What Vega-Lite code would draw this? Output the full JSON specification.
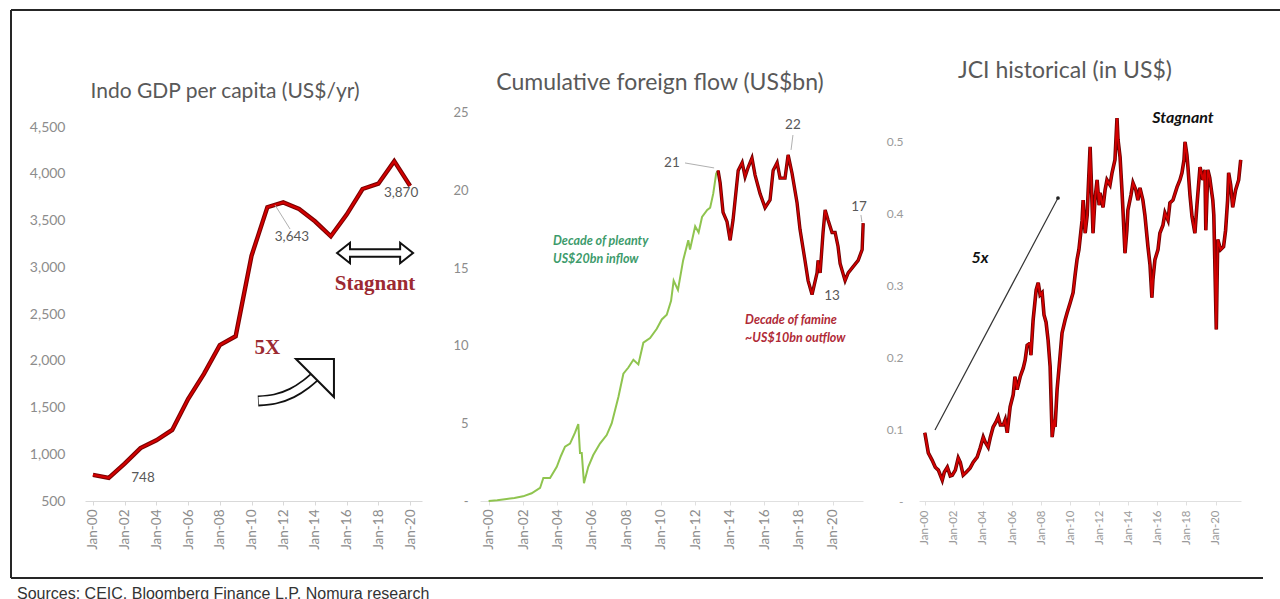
{
  "$schema": "https://vega.github.io/schema/vega-lite/v6.json",
  "width": 1269,
  "height": 568,
  "autosize": {"type": "none"},
  "padding": {"left": 11, "top": 10, "right": 0, "bottom": 21},
  "background": "white",
  "title": {"text": "Sources: CEIC, Bloomberg Finance L.P, Nomura research", "orient": "bottom", "anchor": "start", "offset": 7, "dx": 7, "font": "Liberation Sans", "fontSize": 16, "fontWeight": "normal", "color": "#333333"},
  "config": {"view": {"stroke": null}, "axis": {"grid": false}},
  "datasets": {
    "gdp": [
      {"t": 2000, "v": 780}, {"t": 2001, "v": 748}, {"t": 2002, "v": 900}, {"t": 2003, "v": 1066},
      {"t": 2004, "v": 1150}, {"t": 2005, "v": 1260}, {"t": 2006, "v": 1590}, {"t": 2007, "v": 1860},
      {"t": 2008, "v": 2167}, {"t": 2009, "v": 2262}, {"t": 2010, "v": 3122}, {"t": 2011, "v": 3643},
      {"t": 2012, "v": 3694}, {"t": 2013, "v": 3623}, {"t": 2014, "v": 3492}, {"t": 2015, "v": 3332},
      {"t": 2016, "v": 3563}, {"t": 2017, "v": 3837}, {"t": 2018, "v": 3894}, {"t": 2019, "v": 4135},
      {"t": 2020, "v": 3870}
    ],
    "flow": [
      {"t": 2000.0, "v": 0.0, "seg": "plenty"}, {"t": 2000.5, "v": 0.05, "seg": "plenty"},
      {"t": 2001.05, "v": 0.13, "seg": "plenty"}, {"t": 2001.5, "v": 0.2, "seg": "plenty"},
      {"t": 2002.0, "v": 0.3, "seg": "plenty"}, {"t": 2002.5, "v": 0.5, "seg": "plenty"},
      {"t": 2002.99, "v": 0.84, "seg": "plenty"}, {"t": 2003.18, "v": 1.48, "seg": "plenty"},
      {"t": 2003.57, "v": 1.48, "seg": "plenty"}, {"t": 2003.96, "v": 2.2, "seg": "plenty"},
      {"t": 2004.2, "v": 2.9, "seg": "plenty"}, {"t": 2004.44, "v": 3.5, "seg": "plenty"},
      {"t": 2004.73, "v": 3.7, "seg": "plenty"}, {"t": 2005.02, "v": 4.4, "seg": "plenty"},
      {"t": 2005.21, "v": 4.96, "seg": "plenty"}, {"t": 2005.31, "v": 3.1, "seg": "plenty"},
      {"t": 2005.41, "v": 3.1, "seg": "plenty"}, {"t": 2005.54, "v": 1.15, "seg": "plenty"},
      {"t": 2005.79, "v": 2.2, "seg": "plenty"}, {"t": 2006.08, "v": 2.96, "seg": "plenty"},
      {"t": 2006.47, "v": 3.7, "seg": "plenty"}, {"t": 2006.86, "v": 4.25, "seg": "plenty"},
      {"t": 2007.15, "v": 5.0, "seg": "plenty"}, {"t": 2007.54, "v": 6.7, "seg": "plenty"},
      {"t": 2007.83, "v": 8.2, "seg": "plenty"}, {"t": 2008.12, "v": 8.6, "seg": "plenty"},
      {"t": 2008.41, "v": 9.1, "seg": "plenty"}, {"t": 2008.7, "v": 8.8, "seg": "plenty"},
      {"t": 2008.99, "v": 10.2, "seg": "plenty"}, {"t": 2009.38, "v": 10.5, "seg": "plenty"},
      {"t": 2009.77, "v": 11.1, "seg": "plenty"}, {"t": 2010.06, "v": 11.7, "seg": "plenty"},
      {"t": 2010.35, "v": 12.0, "seg": "plenty"}, {"t": 2010.6, "v": 12.9, "seg": "plenty"},
      {"t": 2010.75, "v": 14.2, "seg": "plenty"}, {"t": 2011.0, "v": 13.6, "seg": "plenty"},
      {"t": 2011.3, "v": 15.5, "seg": "plenty"}, {"t": 2011.6, "v": 16.8, "seg": "plenty"},
      {"t": 2011.7, "v": 16.2, "seg": "plenty"}, {"t": 2012.0, "v": 17.7, "seg": "plenty"},
      {"t": 2012.2, "v": 17.3, "seg": "plenty"}, {"t": 2012.4, "v": 18.3, "seg": "plenty"},
      {"t": 2012.7, "v": 18.75, "seg": "plenty"}, {"t": 2012.87, "v": 18.9, "seg": "plenty"},
      {"t": 2013.05, "v": 19.8, "seg": "plenty"}, {"t": 2013.22, "v": 21.1, "seg": "plenty"},
      {"t": 2013.33, "v": 21.3, "seg": "plenty"},
      {"t": 2013.33, "v": 21.3, "seg": "famine"}, {"t": 2013.45, "v": 20.5, "seg": "famine"},
      {"t": 2013.62, "v": 18.6, "seg": "famine"}, {"t": 2013.85, "v": 18.0, "seg": "famine"},
      {"t": 2014.03, "v": 16.8, "seg": "famine"}, {"t": 2014.2, "v": 18.1, "seg": "famine"},
      {"t": 2014.5, "v": 21.3, "seg": "famine"}, {"t": 2014.73, "v": 21.8, "seg": "famine"},
      {"t": 2014.9, "v": 20.9, "seg": "famine"}, {"t": 2015.08, "v": 21.5, "seg": "famine"},
      {"t": 2015.3, "v": 22.1, "seg": "famine"}, {"t": 2015.48, "v": 21.0, "seg": "famine"},
      {"t": 2015.77, "v": 19.8, "seg": "famine"}, {"t": 2016.06, "v": 18.9, "seg": "famine"},
      {"t": 2016.35, "v": 19.4, "seg": "famine"}, {"t": 2016.53, "v": 21.3, "seg": "famine"},
      {"t": 2016.76, "v": 21.8, "seg": "famine"}, {"t": 2016.93, "v": 20.8, "seg": "famine"},
      {"t": 2017.22, "v": 20.8, "seg": "famine"}, {"t": 2017.4, "v": 22.3, "seg": "famine"},
      {"t": 2017.63, "v": 21.1, "seg": "famine"}, {"t": 2017.92, "v": 19.2, "seg": "famine"},
      {"t": 2018.09, "v": 17.5, "seg": "famine"}, {"t": 2018.38, "v": 15.5, "seg": "famine"},
      {"t": 2018.56, "v": 14.2, "seg": "famine"}, {"t": 2018.79, "v": 13.3, "seg": "famine"},
      {"t": 2019.08, "v": 14.7, "seg": "famine"}, {"t": 2019.14, "v": 15.5, "seg": "famine"},
      {"t": 2019.26, "v": 14.7, "seg": "famine"}, {"t": 2019.43, "v": 17.3, "seg": "famine"},
      {"t": 2019.55, "v": 18.75, "seg": "famine"}, {"t": 2019.72, "v": 18.1, "seg": "famine"},
      {"t": 2019.95, "v": 17.3, "seg": "famine"}, {"t": 2020.13, "v": 17.3, "seg": "famine"},
      {"t": 2020.3, "v": 16.4, "seg": "famine"}, {"t": 2020.42, "v": 15.3, "seg": "famine"},
      {"t": 2020.71, "v": 14.2, "seg": "famine"}, {"t": 2020.89, "v": 14.7, "seg": "famine"},
      {"t": 2021.18, "v": 15.1, "seg": "famine"}, {"t": 2021.47, "v": 15.5, "seg": "famine"},
      {"t": 2021.7, "v": 16.2, "seg": "famine"}, {"t": 2021.76, "v": 17.9, "seg": "famine"}
    ],
    "jci": [
      {"t": 2000.0, "v": 0.095}, {"t": 2000.24, "v": 0.067}, {"t": 2000.5, "v": 0.057}, {"t": 2000.72, "v": 0.047},
      {"t": 2000.93, "v": 0.043}, {"t": 2001.2, "v": 0.029}, {"t": 2001.34, "v": 0.04}, {"t": 2001.55, "v": 0.047},
      {"t": 2001.75, "v": 0.035}, {"t": 2001.89, "v": 0.036}, {"t": 2002.1, "v": 0.043}, {"t": 2002.3, "v": 0.06},
      {"t": 2002.44, "v": 0.054}, {"t": 2002.64, "v": 0.036}, {"t": 2002.85, "v": 0.04}, {"t": 2003.12, "v": 0.046},
      {"t": 2003.33, "v": 0.054}, {"t": 2003.6, "v": 0.061}, {"t": 2003.81, "v": 0.074}, {"t": 2004.02, "v": 0.089},
      {"t": 2004.16, "v": 0.082}, {"t": 2004.36, "v": 0.075}, {"t": 2004.5, "v": 0.088}, {"t": 2004.7, "v": 0.103},
      {"t": 2004.9, "v": 0.11}, {"t": 2005.05, "v": 0.117}, {"t": 2005.2, "v": 0.106}, {"t": 2005.4, "v": 0.106},
      {"t": 2005.53, "v": 0.113}, {"t": 2005.67, "v": 0.095}, {"t": 2005.87, "v": 0.131}, {"t": 2006.08, "v": 0.148},
      {"t": 2006.2, "v": 0.173}, {"t": 2006.35, "v": 0.155}, {"t": 2006.56, "v": 0.173}, {"t": 2006.77, "v": 0.185},
      {"t": 2006.9, "v": 0.196}, {"t": 2007.04, "v": 0.217}, {"t": 2007.25, "v": 0.22}, {"t": 2007.3, "v": 0.203},
      {"t": 2007.45, "v": 0.252}, {"t": 2007.66, "v": 0.294}, {"t": 2007.8, "v": 0.304}, {"t": 2007.93, "v": 0.287},
      {"t": 2008.07, "v": 0.29}, {"t": 2008.2, "v": 0.259}, {"t": 2008.34, "v": 0.249}, {"t": 2008.48, "v": 0.224},
      {"t": 2008.62, "v": 0.187}, {"t": 2008.76, "v": 0.089}, {"t": 2008.9, "v": 0.113}, {"t": 2008.96, "v": 0.103},
      {"t": 2009.1, "v": 0.155}, {"t": 2009.24, "v": 0.187}, {"t": 2009.44, "v": 0.234}, {"t": 2009.65, "v": 0.252},
      {"t": 2009.79, "v": 0.262}, {"t": 2010.0, "v": 0.276}, {"t": 2010.2, "v": 0.29}, {"t": 2010.34, "v": 0.315},
      {"t": 2010.47, "v": 0.336}, {"t": 2010.6, "v": 0.35}, {"t": 2010.82, "v": 0.391}, {"t": 2010.89, "v": 0.419},
      {"t": 2011.03, "v": 0.373}, {"t": 2011.17, "v": 0.398}, {"t": 2011.23, "v": 0.429}, {"t": 2011.37, "v": 0.493},
      {"t": 2011.44, "v": 0.454}, {"t": 2011.57, "v": 0.373}, {"t": 2011.7, "v": 0.419}, {"t": 2011.85, "v": 0.447},
      {"t": 2011.99, "v": 0.412}, {"t": 2012.05, "v": 0.429}, {"t": 2012.26, "v": 0.409}, {"t": 2012.4, "v": 0.433},
      {"t": 2012.53, "v": 0.447}, {"t": 2012.74, "v": 0.44}, {"t": 2012.88, "v": 0.457}, {"t": 2013.08, "v": 0.475},
      {"t": 2013.22, "v": 0.533}, {"t": 2013.29, "v": 0.503}, {"t": 2013.43, "v": 0.479}, {"t": 2013.56, "v": 0.433},
      {"t": 2013.63, "v": 0.405}, {"t": 2013.77, "v": 0.345}, {"t": 2013.9, "v": 0.377}, {"t": 2013.97, "v": 0.405},
      {"t": 2014.18, "v": 0.426}, {"t": 2014.32, "v": 0.443}, {"t": 2014.52, "v": 0.433}, {"t": 2014.66, "v": 0.419},
      {"t": 2014.8, "v": 0.436}, {"t": 2015.0, "v": 0.419}, {"t": 2015.14, "v": 0.398}, {"t": 2015.35, "v": 0.354},
      {"t": 2015.49, "v": 0.329}, {"t": 2015.62, "v": 0.283}, {"t": 2015.69, "v": 0.308}, {"t": 2015.83, "v": 0.336},
      {"t": 2016.04, "v": 0.35}, {"t": 2016.17, "v": 0.373}, {"t": 2016.38, "v": 0.384}, {"t": 2016.52, "v": 0.401},
      {"t": 2016.73, "v": 0.391}, {"t": 2016.86, "v": 0.415}, {"t": 2017.07, "v": 0.419}, {"t": 2017.35, "v": 0.437},
      {"t": 2017.55, "v": 0.447}, {"t": 2017.69, "v": 0.457}, {"t": 2017.83, "v": 0.475}, {"t": 2017.9, "v": 0.5},
      {"t": 2018.03, "v": 0.482}, {"t": 2018.1, "v": 0.465}, {"t": 2018.24, "v": 0.426}, {"t": 2018.38, "v": 0.396},
      {"t": 2018.58, "v": 0.373}, {"t": 2018.72, "v": 0.412}, {"t": 2018.93, "v": 0.465}, {"t": 2019.06, "v": 0.454},
      {"t": 2019.13, "v": 0.447}, {"t": 2019.27, "v": 0.461}, {"t": 2019.33, "v": 0.377}, {"t": 2019.47, "v": 0.461},
      {"t": 2019.6, "v": 0.45}, {"t": 2019.74, "v": 0.429}, {"t": 2019.81, "v": 0.419}, {"t": 2019.88, "v": 0.398},
      {"t": 2020.05, "v": 0.239}, {"t": 2020.15, "v": 0.364}, {"t": 2020.35, "v": 0.35}, {"t": 2020.55, "v": 0.354},
      {"t": 2020.69, "v": 0.377}, {"t": 2020.83, "v": 0.419}, {"t": 2020.9, "v": 0.457}, {"t": 2021.04, "v": 0.44},
      {"t": 2021.18, "v": 0.409}, {"t": 2021.32, "v": 0.426}, {"t": 2021.38, "v": 0.433}, {"t": 2021.59, "v": 0.447},
      {"t": 2021.73, "v": 0.475}
    ]
  },
  "layer": [
    {
      "data": {"values": [
        {"fx": 0, "fx2": 1, "fy": 1, "fy2": 1},
        {"fx": 0, "fx2": 0, "fy": 0, "fy2": 1},
        {"fx": 0, "fx2": 0.9866, "fy": 0, "fy2": 0}]},
      "mark": {"type": "rule", "color": "#262626", "strokeWidth": 2},
      "encoding": {
        "x": {"field": "fx", "type": "quantitative", "scale": {"domain": [0, 1], "range": [0, 1269], "nice": false, "zero": false}, "axis": null},
        "x2": {"field": "fx2"},
        "y": {"field": "fy", "type": "quantitative", "scale": {"domain": [0, 1], "range": [568, 0], "nice": false, "zero": false}, "axis": null},
        "y2": {"field": "fy2"}
      }
    },
    {
      "encoding": {
        "x": {"field": "t", "type": "quantitative",
          "scale": {"domain": [1999.5, 2020.75], "range": [74, 411], "nice": false, "zero": false},
          "axis": {"orient": "bottom", "offset": -77, "title": null, "values": [2000, 2002, 2004, 2006, 2008, 2010, 2012, 2014, 2016, 2018, 2020],
            "labelExpr": "'Jan-' + format(datum.value % 100, '02d')", "labelAngle": -90, "labelFont": "Lato", "labelFontSize": 13.5,
            "labelColor": "#8c8c8c", "domainColor": "#d9d9d9", "tickColor": "#d9d9d9", "tickSize": 4, "labelPadding": 4}},
        "y": {"field": "v", "type": "quantitative",
          "scale": {"domain": [500, 4725], "range": [491, 96], "nice": false, "zero": false},
          "axis": {"orient": "left", "offset": -74, "title": null, "values": [500, 1000, 1500, 2000, 2500, 3000, 3500, 4000, 4500],
            "format": ",.0f", "labelFont": "Lato", "labelFontSize": 14, "labelColor": "#8c8c8c", "domain": false, "ticks": false, "tickSize": 0, "labelPadding": 20}}
      },
      "layer": [
        {"data": {"name": "gdp"}, "mark": {"type": "line", "color": "#7a0000", "strokeWidth": 4.4}},
        {"data": {"name": "gdp"}, "mark": {"type": "line", "color": "#d20000", "strokeWidth": 2.2}},
        {"data": {"values": [{"t": 2011.48, "v": 3666, "t2": 2012.43, "v2": 3409}]},
          "mark": {"type": "rule", "color": "#b0b0b0", "strokeWidth": 1},
          "encoding": {"x2": {"field": "t2"}, "y2": {"field": "v2"}}},
        {"data": {"values": [{"t": 2003.16, "v": 746, "label": "748"}, {"t": 2012.55, "v": 3324, "label": "3,643"}, {"t": 2019.43, "v": 3794, "label": "3,870"}]},
          "mark": {"type": "text", "font": "Lato", "fontSize": 13.5, "color": "#595959", "align": "center", "baseline": "middle"},
          "encoding": {"text": {"field": "label"}}},
        {"data": {"values": [{"t": 2017.79, "v": 2821, "label": "Stagnant"}, {"t": 2011.0, "v": 2140, "label": "5X"}]},
          "mark": {"type": "text", "font": "Liberation Serif", "fontSize": 21, "fontWeight": "bold", "color": "#9c2a32", "align": "center", "baseline": "middle"},
          "encoding": {"text": {"field": "label"}}},
        {"data": {"values": [{"t": 2017.79, "v": 3153}]},
          "mark": {"type": "point", "shape": "M -1 0 L -0.66 -0.27 L -0.66 -0.1 L 0.66 -0.1 L 0.66 -0.27 L 1 0 L 0.66 0.27 L 0.66 0.1 L -0.66 0.1 L -0.66 0.27 Z",
            "size": 5776, "filled": true, "fill": "white", "stroke": "#111111", "strokeWidth": 2, "opacity": 1, "fillOpacity": 1}},
        {"data": {"values": [{"t": 2010.41, "v": 1570}, {"t": 2011.48, "v": 1591}, {"t": 2012.55, "v": 1655}, {"t": 2013.44, "v": 1751}, {"t": 2014.32, "v": 1880}]},
          "mark": {"type": "line", "color": "#111111", "strokeWidth": 11, "interpolate": "monotone", "strokeCap": "butt"}},
        {"data": {"values": [{"t": 2010.45, "v": 1572}, {"t": 2011.48, "v": 1591}, {"t": 2012.55, "v": 1655}, {"t": 2013.44, "v": 1751}, {"t": 2014.32, "v": 1880}]},
          "mark": {"type": "line", "color": "white", "strokeWidth": 7.5, "interpolate": "monotone", "strokeCap": "butt"}},
        {"data": {"values": [{"t": 2014.0, "v": 1816}]},
          "mark": {"type": "point", "shape": "M -1 -1 L 1 -1 L 1 1 Z", "size": 1444, "filled": true, "fill": "white", "stroke": "#111111", "strokeWidth": 2, "opacity": 1, "fillOpacity": 1}},
        {"data": {"values": [{"t": 2008.33, "v": 4875, "label": "Indo GDP per capita (US$/yr)"}]},
          "mark": {"type": "text", "font": "Lato", "fontSize": 21, "color": "#595959", "align": "center", "baseline": "middle"},
          "encoding": {"text": {"field": "label"}}}
      ]
    },
    {
      "encoding": {
        "x": {"field": "t", "type": "quantitative",
          "scale": {"domain": [1999.5, 2021.75], "range": [469, 852], "nice": false, "zero": false},
          "axis": {"orient": "bottom", "offset": -77, "title": null, "values": [2000, 2002, 2004, 2006, 2008, 2010, 2012, 2014, 2016, 2018, 2020],
            "labelExpr": "'Jan-' + format(datum.value % 100, '02d')", "labelAngle": -90, "labelFont": "Lato", "labelFontSize": 13.5,
            "labelColor": "#8c8c8c", "domainColor": "#e0e0e0", "tickColor": "#e0e0e0", "tickSize": 4, "labelPadding": 4}},
        "y": {"field": "v", "type": "quantitative",
          "scale": {"domain": [0, 25.45], "range": [491, 96], "nice": false, "zero": false},
          "axis": {"orient": "left", "offset": -469, "title": null, "values": [0, 5, 10, 15, 20, 25],
            "labelExpr": "datum.value == 0 ? '-' : datum.label", "labelFont": "Lato", "labelFontSize": 13, "labelColor": "#8c8c8c", "domain": false, "ticks": false, "tickSize": 0, "labelPadding": 12}}
      },
      "layer": [
        {"data": {"name": "flow"}, "transform": [{"filter": "datum.seg == 'plenty'"}], "mark": {"type": "line", "color": "#8fc44f", "strokeWidth": 2}},
        {"data": {"name": "flow"}, "transform": [{"filter": "datum.seg == 'famine'"}], "mark": {"type": "line", "color": "#6b0000", "strokeWidth": 3.4}},
        {"data": {"name": "flow"}, "transform": [{"filter": "datum.seg == 'famine'"}], "mark": {"type": "line", "color": "#d00000", "strokeWidth": 1.7}},
        {"data": {"values": [
            {"t": 2011.41, "v": 21.78, "t2": 2013.1, "v2": 21.46},
            {"t": 2017.68, "v": 23.58, "t2": 2017.57, "v2": 22.62},
            {"t": 2021.63, "v": 18.43, "t2": 2021.69, "v2": 17.98}]},
          "mark": {"type": "rule", "color": "#b0b0b0", "strokeWidth": 1},
          "encoding": {"x2": {"field": "t2"}, "y2": {"field": "v2"}}},
        {"data": {"values": [{"t": 2010.65, "v": 21.78, "label": "21"}, {"t": 2017.68, "v": 24.23, "label": "22"}, {"t": 2021.52, "v": 18.94, "label": "17"}, {"t": 2019.95, "v": 13.21, "label": "13"}]},
          "mark": {"type": "text", "font": "Lato", "fontSize": 13.5, "color": "#595959", "align": "center", "baseline": "middle"},
          "encoding": {"text": {"field": "label"}}},
        {"data": {"values": [{"t": 2003.74, "v": 16.75, "label": "Decade of pleanty"}, {"t": 2003.74, "v": 15.59, "label": "US$20bn inflow"}]},
          "mark": {"type": "text", "font": "Lato", "fontSize": 12.5, "fontWeight": "bold", "fontStyle": "italic", "color": "#3d9b6b", "align": "left", "baseline": "middle"},
          "encoding": {"text": {"field": "label"}}},
        {"data": {"values": [{"t": 2014.9, "v": 11.66, "label": "Decade of famine"}, {"t": 2014.9, "v": 10.5, "label": "~US$10bn outflow"}]},
          "mark": {"type": "text", "font": "Lato", "fontSize": 12.5, "fontWeight": "bold", "fontStyle": "italic", "color": "#b02a36", "align": "left", "baseline": "middle"},
          "encoding": {"text": {"field": "label"}}},
        {"data": {"values": [{"t": 2009.96, "v": 26.93, "label": "Cumulative foreign flow (US$bn)"}]},
          "mark": {"type": "text", "font": "Lato", "fontSize": 23, "color": "#595959", "align": "center", "baseline": "middle"},
          "encoding": {"text": {"field": "label"}}}
      ]
    },
    {
      "encoding": {
        "x": {"field": "t", "type": "quantitative",
          "scale": {"domain": [1999.6, 2021.75], "range": [908, 1230], "nice": false, "zero": false},
          "axis": {"orient": "bottom", "offset": -77, "title": null, "values": [2000, 2002, 2004, 2006, 2008, 2010, 2012, 2014, 2016, 2018, 2020],
            "labelExpr": "'Jan-' + format(datum.value % 100, '02d')", "labelAngle": -90, "labelFont": "Lato", "labelFontSize": 11.5,
            "labelColor": "#9a9a9a", "domainColor": "#e0e0e0", "tickColor": "#e0e0e0", "tickSize": 4, "labelPadding": 5}},
        "y": {"field": "v", "type": "quantitative",
          "scale": {"domain": [0, 0.55], "range": [491, 96], "nice": false, "zero": false},
          "axis": {"orient": "left", "offset": -908, "title": null, "values": [0, 0.1, 0.2, 0.3, 0.4, 0.5],
            "format": ".1f", "labelExpr": "datum.value == 0 ? '-' : datum.label", "labelFont": "Lato", "labelFontSize": 12, "labelColor": "#9a9a9a", "domain": false, "ticks": false, "tickSize": 0, "labelPadding": 16}}
      },
      "layer": [
        {"data": {"name": "jci"}, "mark": {"type": "line", "color": "#6b0000", "strokeWidth": 3.6}},
        {"data": {"name": "jci"}, "mark": {"type": "line", "color": "#d40000", "strokeWidth": 1.9}},
        {"data": {"values": [{"t": 2000.7, "v": 0.0989, "t2": 2009.16, "v2": 0.4219}]},
          "mark": {"type": "rule", "color": "#333333", "strokeWidth": 1.2},
          "encoding": {"x2": {"field": "t2"}, "y2": {"field": "v2"}}},
        {"data": {"values": [{"t": 2009.16, "v": 0.4219}]},
          "mark": {"type": "point", "filled": true, "color": "#222222", "size": 14, "opacity": 1}},
        {"data": {"values": [{"t": 2017.76, "v": 0.533, "label": "Stagnant"}, {"t": 2003.8, "v": 0.338, "label": "5x"}]},
          "mark": {"type": "text", "font": "Lato", "fontSize": 16, "fontWeight": "bold", "fontStyle": "italic", "color": "#111111", "align": "center", "baseline": "middle"},
          "encoding": {"text": {"field": "label"}}},
        {"data": {"values": [{"t": 2009.64, "v": 0.599, "label": "JCI historical (in US$)"}]},
          "mark": {"type": "text", "font": "Lato", "fontSize": 23, "color": "#595959", "align": "center", "baseline": "middle"},
          "encoding": {"text": {"field": "label"}}}
      ]
    }
  ],
  "resolve": {"scale": {"x": "independent", "y": "independent"}, "axis": {"x": "independent", "y": "independent"}}
}
